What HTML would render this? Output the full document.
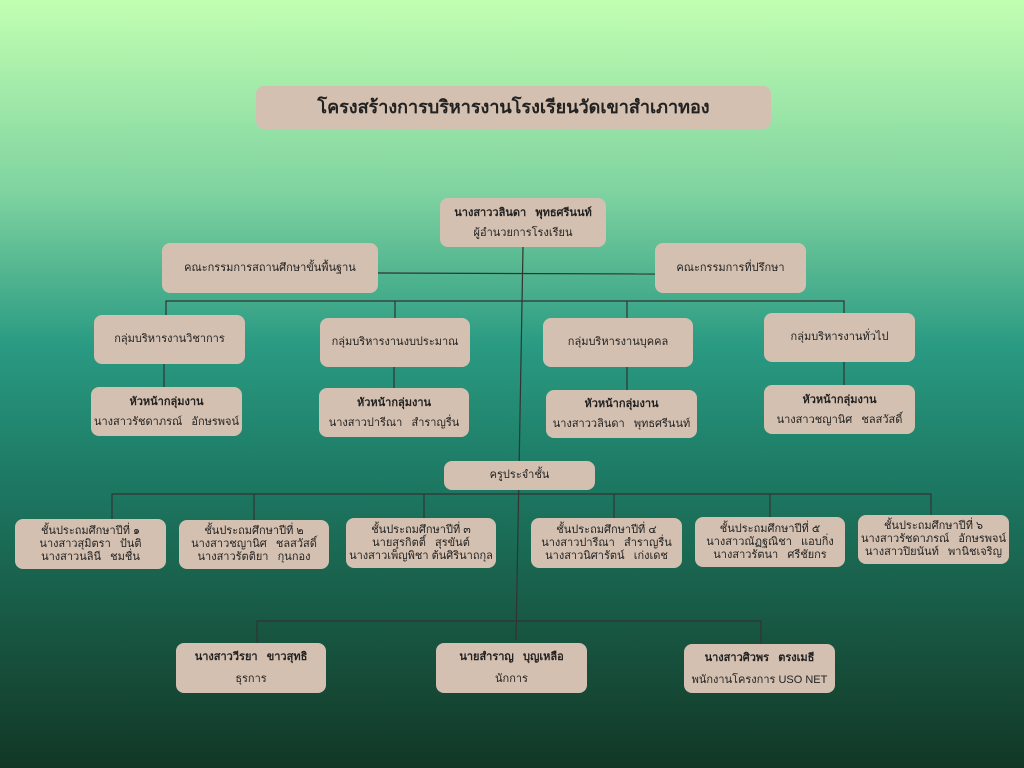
<!DOCTYPE html>
<html><head><meta charset="utf-8"><style>
html,body{margin:0;padding:0}
body{width:1024px;height:768px;position:relative;overflow:hidden;
background:linear-gradient(180deg,#c2ffb2 0%,#7fd3a0 25%,#2a9a82 45%,#1d7a64 62%,#185a45 80%,#123726 100%);
font-family:"Liberation Sans","DejaVu Sans",sans-serif;color:#222}
.b{position:absolute;background:#d4c0b0;border-radius:8px;display:flex;flex-direction:column;justify-content:center;align-items:center;text-align:center;font-size:11px;line-height:13px;white-space:nowrap}
.b b{font-weight:bold}
svg{position:absolute;left:0;top:0}
</style></head><body>
<svg width="1024" height="768">
<g stroke="#333" stroke-width="1.2" fill="none">
<line x1="523" y1="247" x2="516" y2="640"/>
<line x1="378" y1="273" x2="655" y2="274"/>
<polyline points="166,315 166,301 844,301 844,313"/>
<line x1="395" y1="301" x2="395" y2="318"/>
<line x1="627" y1="301" x2="627" y2="318"/>
<line x1="164" y1="364" x2="164" y2="387"/>
<line x1="394" y1="367" x2="394" y2="388"/>
<line x1="627" y1="367" x2="627" y2="390"/>
<line x1="844" y1="362" x2="844" y2="385"/>
<polyline points="112,519 112,494 931,494 931,515"/>
<line x1="254" y1="494" x2="254" y2="520"/>
<line x1="424" y1="494" x2="424" y2="518"/>
<line x1="614" y1="494" x2="614" y2="518"/>
<line x1="770" y1="494" x2="770" y2="517"/>
<polyline points="257,643 257,621 761,621 761,644"/>
</g></svg>
<div class="b" style="left:256px;top:86px;width:515px;height:43px;font-size:18px;font-weight:bold">โครงสร้างการบริหารงานโรงเรียนวัดเขาสำเภาทอง</div>
<div class="b" style="left:440px;top:198px;width:166px;height:49px;line-height:20px"><b>นางสาววลินดา &nbsp; พุทธศรีนนท์</b><span>ผู้อำนวยการโรงเรียน</span></div>
<div class="b" style="left:162px;top:243px;width:216px;height:50px">คณะกรรมการสถานศึกษาขั้นพื้นฐาน</div>
<div class="b" style="left:655px;top:243px;width:151px;height:50px">คณะกรรมการที่ปรึกษา</div>
<div class="b" style="left:94px;top:315px;width:151px;height:49px">กลุ่มบริหารงานวิชาการ</div>
<div class="b" style="left:320px;top:318px;width:150px;height:49px">กลุ่มบริหารงานงบประมาณ</div>
<div class="b" style="left:543px;top:318px;width:150px;height:49px">กลุ่มบริหารงานบุคคล</div>
<div class="b" style="left:764px;top:313px;width:151px;height:49px">กลุ่มบริหารงานทั่วไป</div>
<div class="b" style="left:91px;top:387px;width:151px;height:49px;line-height:20px"><b>หัวหน้ากลุ่มงาน</b><span>นางสาวรัชดาภรณ์ &nbsp; อักษรพจน์</span></div>
<div class="b" style="left:319px;top:388px;width:150px;height:49px;line-height:20px"><b>หัวหน้ากลุ่มงาน</b><span>นางสาวปารีณา &nbsp; สำราญรื่น</span></div>
<div class="b" style="left:546px;top:390px;width:151px;height:48px;line-height:20px"><b>หัวหน้ากลุ่มงาน</b><span>นางสาววลินดา &nbsp; พุทธศรีนนท์</span></div>
<div class="b" style="left:764px;top:385px;width:151px;height:49px;line-height:20px"><b>หัวหน้ากลุ่มงาน</b><span>นางสาวชญานิศ &nbsp; ชลสวัสดิ์</span></div>
<div class="b" style="left:444px;top:461px;width:151px;height:29px">ครูประจำชั้น</div>
<div class="b" style="left:15px;top:519px;width:151px;height:50px"><span>ชั้นประถมศึกษาปีที่ ๑</span><span>นางสาวสุมิตรา &nbsp; ปันติ</span><span>นางสาวนลินี &nbsp; ชมชื่น</span></div>
<div class="b" style="left:179px;top:520px;width:150px;height:49px"><span>ชั้นประถมศึกษาปีที่ ๒</span><span>นางสาวชญานิศ &nbsp; ชลสวัสดิ์</span><span>นางสาวรัตติยา &nbsp; กุนกอง</span></div>
<div class="b" style="left:346px;top:518px;width:150px;height:50px"><span>ชั้นประถมศึกษาปีที่ ๓</span><span>นายสุรกิตติ์ &nbsp; สุรขันต์</span><span>นางสาวเพ็ญพิชา ต้นศิรินาถกุล</span></div>
<div class="b" style="left:531px;top:518px;width:151px;height:50px"><span>ชั้นประถมศึกษาปีที่ ๔</span><span>นางสาวปารีณา &nbsp; สำราญรื่น</span><span>นางสาวนิศารัตน์ &nbsp; เก่งเดช</span></div>
<div class="b" style="left:695px;top:517px;width:150px;height:50px"><span>ชั้นประถมศึกษาปีที่ ๕</span><span>นางสาวณัฏฐณิชา &nbsp; แอบกิ่ง</span><span>นางสาวรัตนา &nbsp; ศรีชัยกร</span></div>
<div class="b" style="left:858px;top:515px;width:151px;height:49px"><span>ชั้นประถมศึกษาปีที่ ๖</span><span>นางสาวรัชดาภรณ์ &nbsp; อักษรพจน์</span><span>นางสาวปิยนันท์ &nbsp; พานิชเจริญ</span></div>
<div class="b" style="left:176px;top:643px;width:150px;height:50px;line-height:22px"><b>นางสาววีรยา &nbsp; ขาวสุทธิ</b><span>ธุรการ</span></div>
<div class="b" style="left:436px;top:643px;width:151px;height:50px;line-height:22px"><b>นายสำราญ &nbsp; บุญเหลือ</b><span>นักการ</span></div>
<div class="b" style="left:684px;top:644px;width:151px;height:49px;line-height:22px"><b>นางสาวศิวพร &nbsp; ตรงเมธี</b><span>พนักงานโครงการ USO NET</span></div>
</body></html>
